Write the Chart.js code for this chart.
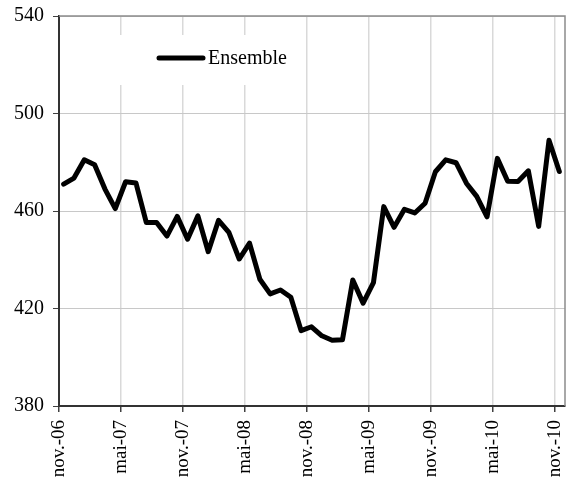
<!DOCTYPE html>
<html>
<head>
<meta charset="utf-8">
<script src="https://cdn.jsdelivr.net/npm/chart.js@4"></script>
<style>
  html, body { margin: 0; padding: 0; background: #fff; }
  #wrap { width: 566px; height: 496px; }
</style>
</head>
<body>
<div id="wrap"><canvas id="lineChart" width="566" height="496"></canvas></div>
<script>
// Valeurs mensuelles, nov.-06 -> nov.-10
const valeurs = [
  471, 473.5, 481, 479, 469, 461, 472, 471.5, 455.3, 455.3,
  449.7, 457.8, 448.4, 458, 443.3, 456.2, 451.2, 440.3, 446.8, 432,
  426, 427.6, 424.6, 410.9, 412.5, 408.8, 407, 407.2, 431.7, 422.2,
  430.6, 461.8, 453.3, 460.7, 459.2, 463.2, 476.1, 481, 479.8, 471.4,
  466, 457.6, 481.6, 472.2, 472.1, 476.5, 453.7, 489, 476.2
];
// Etiquettes de l'axe des x (tous les 6 mois)
const etiquettesX = ['nov.-06', 'mai-07', 'nov.-07', 'mai-08', 'nov.-08', 'mai-09', 'nov.-09', 'mai-10', 'nov.-10'];
const ticksY = [380, 420, 460, 500, 540];
const nomSerie = 'Ensemble';

const police = 'Liberation Serif, Times New Roman, serif';

// Légende dans la zone du graphique + cadre haut/droite
const legendeInterne = {
  id: 'legendeInterne',
  beforeDatasetsDraw(chart) {
    const ctx = chart.ctx;
    const a = chart.chartArea;
    ctx.save();
    // fond blanc de la légende
    ctx.fillStyle = '#ffffff';
    ctx.fillRect(100, 35, 200, 50);
    // cadre haut et droit
    ctx.strokeStyle = '#8c8c8c';
    ctx.lineWidth = 1.5;
    ctx.beginPath();
    ctx.moveTo(a.left, a.top);
    ctx.lineTo(a.right, a.top);
    ctx.lineTo(a.right, a.bottom);
    ctx.stroke();
    // symbole
    ctx.strokeStyle = '#000';
    ctx.lineWidth = 5;
    ctx.lineCap = 'round';
    ctx.beginPath();
    ctx.moveTo(159, 58);
    ctx.lineTo(203, 58);
    ctx.stroke();
    ctx.fillStyle = '#000';
    ctx.font = '20px ' + police;
    ctx.textBaseline = 'middle';
    ctx.fillText(nomSerie, 208, 59);
    ctx.restore();
  }
};

const config = {
  type: 'line',
  data: {
    datasets: [{
      label: nomSerie,
      data: valeurs.map((v, i) => ({ x: i + 0.45, y: v })),
      borderColor: '#000',
      borderWidth: 5,
      borderJoinStyle: 'round',
      borderCapStyle: 'round',
      pointRadius: 0,
      tension: 0,
      fill: false
    }]
  },
  options: {
    responsive: false,
    animation: false,
    layout: { padding: { top: 16, right: 1, left: 0, bottom: 0 } },
    plugins: {
      legend: { display: false },
      tooltip: { enabled: false }
    },
    scales: {
      x: {
        type: 'linear',
        min: 0,
        max: 49,
        afterFit(scale) {
          scale.height = 90;
          scale.paddingLeft = 0;
          scale.paddingRight = 0;
        },
        ticks: {
          stepSize: 6,
          includeBounds: false,
          autoSkip: false,
          minRotation: 90,
          maxRotation: 90,
          padding: 8,
          color: '#000',
          font: { family: police, size: 19 },
          callback: (v) => (v % 6 === 0 ? etiquettesX[v / 6] : '')
        },
        grid: {
          color: '#d9d9d9',
          lineWidth: 1.5,
          tickColor: '#404040',
          tickLength: 6
        },
        border: { color: '#333', width: 2 }
      },
      y: {
        min: ticksY[0],
        max: ticksY[ticksY.length - 1],
        afterFit(scale) {
          scale.width = 59;
          scale.paddingTop = 0;
          scale.paddingBottom = 0;
        },
        afterBuildTicks(scale) { scale.ticks = ticksY.map(v => ({ value: v })); },
        ticks: {
          padding: 9,
          color: '#000',
          font: { family: police, size: 20 }
        },
        grid: {
          color: '#c8c8c8',
          lineWidth: 1,
          tickColor: '#404040',
          tickLength: 6
        },
        border: { color: '#333', width: 2 }
      }
    }
  },
  plugins: [legendeInterne]
};

const ctx = document.getElementById('lineChart').getContext('2d');
new Chart(ctx, config);
</script>
</body>
</html>
